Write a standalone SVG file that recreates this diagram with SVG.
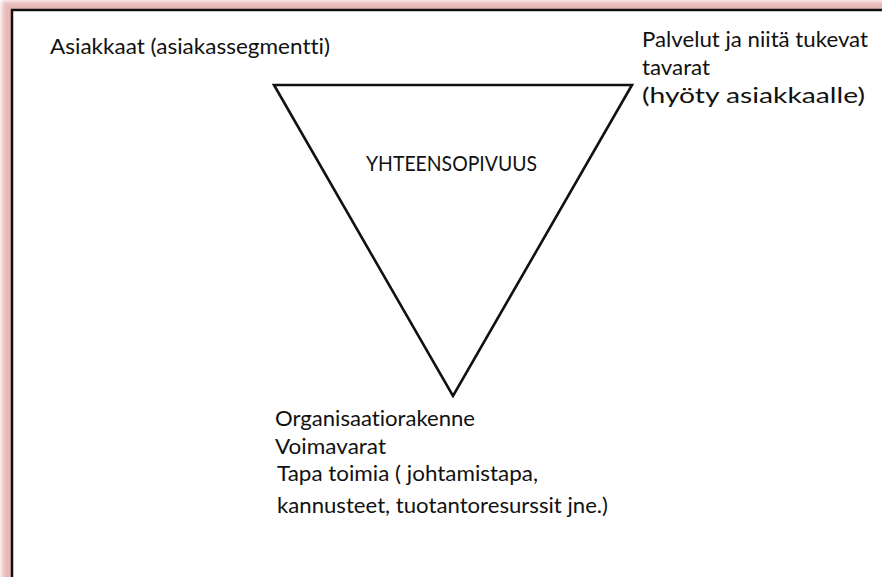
<svg xmlns="http://www.w3.org/2000/svg" width="882" height="577" viewBox="0 0 882 577">
  <defs>
    <filter id="glow" x="-10%" y="-10%" width="120%" height="120%">
      <feGaussianBlur stdDeviation="2.5"/>
    </filter>
  </defs>
  <style>
    .t { font-family: Lato, "Liberation Sans", Arial, sans-serif; font-size: 22px; fill: #111; font-variant-ligatures: none; font-feature-settings: "liga" 0, "clig" 0; }
    .frame { fill: #ffffff; stroke: #111; stroke-width: 2.5; }
    .tri { fill: none; stroke: #111; stroke-width: 2.6; stroke-linejoin: miter; }
  </style>
  <rect width="882" height="577" fill="#ffffff"/>
  <rect x="2" y="1" width="900" height="600" fill="#e8b8b8" filter="url(#glow)"/>
  <g id="frame">
    <rect class="frame" x="12" y="10" width="900" height="600"/>
  </g>
  <g id="connectors">
    <polygon class="tri" points="274,85 632,85 453,396"/>
  </g>
  <g id="node-asiakkaat">
    <text class="t" x="50" y="54" textLength="280" lengthAdjust="spacingAndGlyphs">Asiakkaat (asiakassegmentti)</text>
  </g>
  <g id="node-palvelut">
    <text class="t" x="642" y="47" textLength="226" lengthAdjust="spacingAndGlyphs">Palvelut ja niitä tukevat</text>
    <text class="t" x="642" y="75" textLength="68" lengthAdjust="spacingAndGlyphs">tavarat</text>
    <text class="t" x="642" y="103" textLength="223" lengthAdjust="spacingAndGlyphs">(hyöty asiakkaalle)</text>
  </g>
  <g id="node-center">
    <text class="t" x="366" y="171" textLength="171" lengthAdjust="spacingAndGlyphs">YHTEENSOPIVUUS</text>
  </g>
  <g id="node-organisaatio">
    <text class="t" x="275" y="426" textLength="200" lengthAdjust="spacingAndGlyphs">Organisaatiorakenne</text>
    <text class="t" x="275" y="454" textLength="111" lengthAdjust="spacingAndGlyphs">Voimavarat</text>
    <text class="t" x="277" y="481" textLength="261" lengthAdjust="spacingAndGlyphs">Tapa toimia ( johtamistapa,</text>
    <text class="t" x="277" y="513" textLength="331" lengthAdjust="spacingAndGlyphs">kannusteet, tuotantoresurssit jne.)</text>
  </g>
</svg>
